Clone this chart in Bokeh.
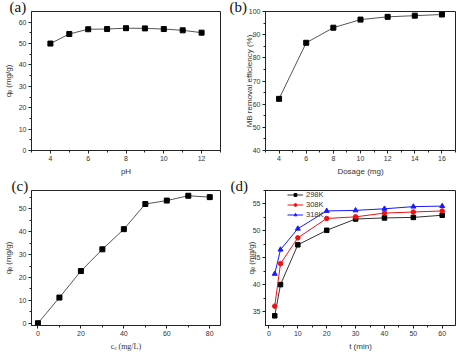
from bokeh.plotting import figure
from bokeh.layouts import gridplot
from bokeh.models import FixedTicker, Title, Legend, LegendItem, Range1d
from bokeh.embed import file_html
from bokeh.resources import INLINE

# ---- data ----
ph = [4, 5, 6, 7, 8, 9, 10, 11, 12]
qe_ph = [50.0, 54.5, 56.7, 56.8, 57.2, 57.1, 56.8, 56.2, 55.1]

dosage = [4, 6, 8, 10, 12, 14, 16]
removal = [62.3, 86.5, 93.0, 96.5, 97.7, 98.2, 98.7]

ce = [0, 10, 20, 30, 40, 50, 60, 70, 80]
qe_ce = [0.0, 11.2, 22.8, 32.3, 41.1, 52.1, 53.6, 55.7, 55.1]

t_min = [2, 4, 10, 20, 30, 40, 50, 60]
q_298 = [34.2, 40.0, 47.4, 50.1, 52.2, 52.4, 52.5, 52.9]
q_308 = [36.0, 43.9, 48.7, 52.3, 52.6, 53.3, 53.5, 53.7]
q_318 = [42.0, 46.5, 50.4, 53.7, 53.8, 54.1, 54.5, 54.6]

SANS = "Liberation Sans"
SERIF = "Liberation Serif"


def make_fig(w, h, left, right, top, bottom, xr, yr, xt, xm, yt, ym, xlabel, ylabel,
             xlabel_font=SANS, ylab_standoff=3):
    p = figure(width=w, height=h, output_backend="svg", toolbar_location=None,
               x_range=Range1d(*xr), y_range=Range1d(*yr),
               min_border_left=left, min_border_right=right,
               min_border_top=top, min_border_bottom=bottom)
    p.xgrid.visible = False
    p.ygrid.visible = False
    p.outline_line_color = "#222222"
    p.outline_line_width = 1
    p.background_fill_color = "white"
    p.border_fill_color = "white"
    p.xaxis.ticker = FixedTicker(ticks=xt, minor_ticks=xm)
    p.yaxis.ticker = FixedTicker(ticks=yt, minor_ticks=ym)
    for ax in (p.xaxis[0], p.yaxis[0]):
        ax.axis_line_color = "#222222"
        ax.major_tick_line_color = "#222222"
        ax.minor_tick_line_color = "#222222"
        ax.major_tick_out = 3
        ax.major_tick_in = 0
        ax.minor_tick_out = 2
        ax.minor_tick_in = 0
        ax.major_label_text_font = SANS
        ax.major_label_text_font_size = "7px"
        ax.major_label_text_color = "#333333"
        ax.major_label_standoff = 2
        ax.axis_label_text_font = SANS
        ax.axis_label_text_font_size = "8px"
        ax.axis_label_text_font_style = "normal"
        ax.axis_label_text_color = "#333333"
        ax.axis_label_standoff = 3
    p.yaxis.axis_label_standoff = ylab_standoff
    p.xaxis.axis_label = xlabel
    p.yaxis.axis_label = ylabel
    p.xaxis.axis_label_text_font = xlabel_font
    return p


def panel_label(p, txt, offset):
    t = Title(text=txt, align="left", offset=offset, standoff=-10,
              vertical_align="top",
              text_font=SERIF, text_font_size="15px", text_font_style="normal",
              text_color="#111111")
    p.add_layout(t, "above")


def series(p, x, y, color, marker, line_color=None, size=5):
    r1 = p.line(x, y, line_color=line_color or color, line_width=1)
    r2 = p.scatter(x, y, marker=marker, size=size, fill_color=color, line_color=color)
    return [r1, r2]


TOPH, BOTH = 178, 175
T_TOP, T_BOT = 11, 21
B_TOP, B_BOT = 12, 22
FH_T = TOPH - T_TOP - T_BOT
FH_B = BOTH - B_TOP - B_BOT

# (a)
pa = make_fig(229, TOPH, 22, 9, T_TOP, T_BOT, (3, 13), (0, 65),
              [4, 6, 8, 10, 12], [3, 5, 7, 9, 11, 13],
              [0, 10, 20, 30, 40, 50, 60], [5, 15, 25, 35, 45, 55],
              "pH", "qₑ (mg/g)")
series(pa, ph, qe_ph, "black", "square", line_color="#555555")
panel_label(pa, "(a)", -22)

# (b)
pb = make_fig(229, TOPH, 36, 2, T_TOP, T_BOT, (3, 17), (40, 100),
              [4, 6, 8, 10, 12, 14, 16], [3, 5, 7, 9, 11, 13, 15, 17],
              [40, 50, 60, 70, 80, 90, 100], [45, 55, 65, 75, 85, 95],
              "Dosage (mg)", "MB removal efficiency (%)", ylab_standoff=-8)
series(pb, dosage, removal, "black", "square", line_color="#555555")
panel_label(pb, "(b)", -36)

# (c)
pc = make_fig(229, BOTH, 22, 9, B_TOP, B_BOT, (-3, 85), (-1, 58),
              [0, 20, 40, 60, 80], [10, 30, 50, 70],
              [0, 10, 20, 30, 40, 50], [5, 15, 25, 35, 45, 55],
              "cₑ (mg/L)", "qₑ (mg/g)", xlabel_font=SERIF)
series(pc, ce, qe_ce, "black", "square", line_color="#555555")
panel_label(pc, "(c)", -20)

# (d)
pd_ = make_fig(229, BOTH, 36, 3, B_TOP, B_BOT, (-1.2, 64.6), (32.4, 57.5),
               [0, 10, 20, 30, 40, 50, 60], [5, 15, 25, 35, 45, 55],
               [35, 40, 45, 50, 55], [37.5, 42.5, 47.5, 52.5, 57.5],
               "t (min)", "qₑ (mg/g)", ylab_standoff=-6)
r298 = series(pd_, t_min, q_298, "black", "square", line_color="#333333", size=4.5)
r308 = series(pd_, t_min, q_308, "#ee1111", "circle", size=4.5)
r318 = series(pd_, t_min, q_318, "#1a1aff", "triangle", size=5)
legend = Legend(items=[LegendItem(label="298K", renderers=r298),
                       LegendItem(label="308K", renderers=r308),
                       LegendItem(label="318K", renderers=r318)],
                location=(22, FH_B - 35), orientation="vertical",
                border_line_color=None, background_fill_alpha=0,
                label_text_font=SANS, label_text_font_size="7.5px",
                label_text_color="#333333",
                glyph_width=16, glyph_height=7, label_height=7, spacing=1,
                padding=1, margin=0, label_standoff=3)
pd_.add_layout(legend)
panel_label(pd_, "(d)", -35)

grid = gridplot([[pa, pb], [pc, pd_]], toolbar_location=None)

open("out.html", "w").write(file_html(grid, INLINE))
